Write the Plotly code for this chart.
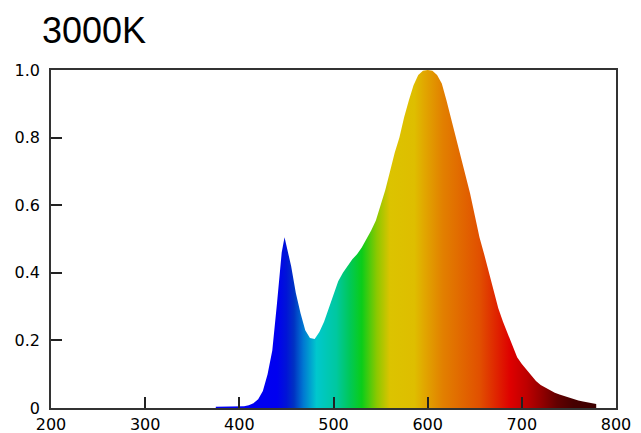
import plotly.graph_objects as go

# Spectral power distribution (relative)
wavelength = [375, 380, 385, 390, 395, 400, 405, 410, 415, 420, 425, 430, 435, 440, 445,
              448, 450, 455, 460, 465, 470, 475, 480, 485, 490, 495, 500, 505, 510, 515,
              520, 525, 530, 535, 540, 545, 550, 555, 560, 565, 570, 575, 580, 585, 590,
              595, 600, 605, 610, 615, 620, 625, 630, 635, 640, 645, 650, 655, 660, 665,
              670, 675, 680, 685, 690, 695, 700, 705, 710, 715, 720, 725, 730, 735, 740,
              745, 750, 755, 760, 765, 770, 775, 779]
intensity = [0.004, 0.004, 0.004, 0.004, 0.004, 0.004, 0.005, 0.008, 0.014, 0.026, 0.05,
             0.10, 0.17, 0.31, 0.46, 0.505, 0.48, 0.42, 0.34, 0.28, 0.23, 0.207, 0.204,
             0.225, 0.255, 0.295, 0.34, 0.375, 0.40, 0.42, 0.44, 0.455, 0.475, 0.50, 0.525,
             0.555, 0.60, 0.645, 0.70, 0.755, 0.80, 0.86, 0.91, 0.955, 0.985, 0.998, 1.0,
             0.998, 0.985, 0.96, 0.91, 0.855, 0.80, 0.745, 0.69, 0.635, 0.57, 0.505, 0.455,
             0.40, 0.345, 0.295, 0.255, 0.22, 0.18, 0.15, 0.13, 0.113, 0.094, 0.08, 0.068,
             0.06, 0.052, 0.045, 0.04, 0.035, 0.03, 0.026, 0.022, 0.019, 0.017, 0.015, 0.012]

x_ticks = [200, 300, 400, 500, 600, 700, 800]
y_ticks = [0, 0.2, 0.4, 0.6, 0.8, 1.0]
y_ticktext = ["0", "0.2", "0.4", "0.6", "0.8", "1.0"]
title_text = "3000K"

# wavelength -> display colour stops
color_stops = [
    (375, "rgb(0,0,245)"), (440, "rgb(0,0,240)"), (450, "rgb(0,20,215)"),
    (458, "rgb(0,50,195)"), (468, "rgb(0,120,210)"), (482, "rgb(0,200,205)"),
    (503, "rgb(0,200,160)"), (517, "rgb(0,200,90)"), (530, "rgb(10,205,25)"),
    (546, "rgb(140,200,0)"), (560, "rgb(220,195,0)"), (586, "rgb(222,190,0)"),
    (596, "rgb(225,168,0)"), (616, "rgb(226,128,0)"), (655, "rgb(225,80,0)"),
    (688, "rgb(222,0,0)"), (705, "rgb(190,0,0)"), (720, "rgb(150,0,0)"),
    (737, "rgb(100,0,0)"), (755, "rgb(70,0,0)"), (780, "rgb(60,0,0)"),
]
lo, hi = color_stops[0][0], color_stops[-1][0]
colorscale = [[(w - lo) / (hi - lo), c] for w, c in color_stops]

fig = go.Figure()
fig.add_trace(go.Scatter(
    x=wavelength, y=intensity, mode="lines", line=dict(width=0),
    fill="tozeroy",
    fillgradient=dict(type="horizontal", colorscale=colorscale, start=lo, stop=hi),
    hoverinfo="skip", showlegend=False,
))

# the page body adds an 8px offset, so the figure is 8px smaller than the window
axis_font = dict(family="DejaVu Sans", size=16, color="#000")
fig.update_layout(
    width=633, height=425,
    margin=dict(l=43, r=25, t=62, b=25, autoexpand=False),
    paper_bgcolor="white", plot_bgcolor="white",
    showlegend=False,
    annotations=[dict(text=title_text, xref="paper", yref="paper", x=0, y=1.0,
                      xshift=-11, yshift=40, xanchor="left", yanchor="middle", showarrow=False,
                      font=dict(family="Liberation Sans", size=36, color="#000"))],
)
fig.update_xaxes(range=[200, 800], tickvals=x_ticks, ticktext=[str(v) for v in x_ticks],
                 ticks="inside", ticklen=11, tickwidth=1.5, tickcolor="#222",
                 showline=True, linecolor="#333", linewidth=1.5, mirror=True, automargin=False,
                 showgrid=False, zeroline=False, tickfont=axis_font, ticklabelstandoff=1)
fig.update_yaxes(range=[0, 1.0], tickvals=y_ticks, ticktext=y_ticktext,
                 ticks="inside", ticklen=11, tickwidth=1.5, tickcolor="#222",
                 showline=True, linecolor="#333", linewidth=1.5, mirror=True, automargin=False,
                 showgrid=False, zeroline=False, tickfont=axis_font, ticklabelstandoff=6)

fig.write_html("out.html")
